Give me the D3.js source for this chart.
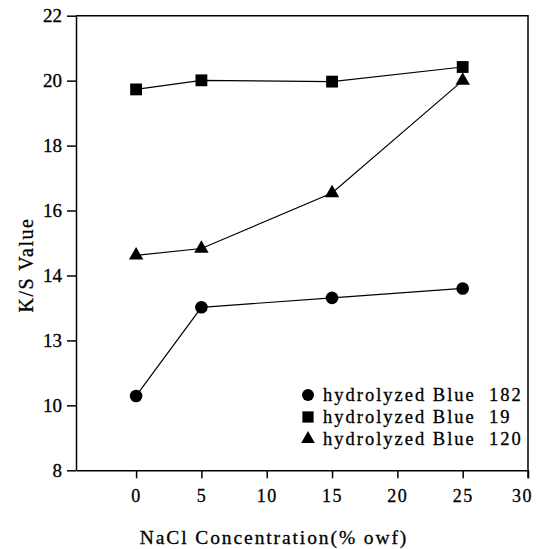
<!DOCTYPE html>
<html>
<head>
<meta charset="utf-8">
<script src="https://cdn.jsdelivr.net/npm/d3@7"></script>
<style>
  body { margin: 0; background: #fff; }
  text { font-family: "Liberation Serif", "Times New Roman", serif; fill: #000; }
</style>
</head>
<body>
<script>
// data
const NACL = [0, 5, 15, 25]
const BLUE182 = [10.29, 13.02, 13.31, 13.6]
const BLUE19 = [19.73, 20.01, 19.97, 20.42]
const BLUE120 = [14.62, 14.83, 16.54, 20.0]
const SERIES_NAMES = ['hydrolyzed Blue  182', 'hydrolyzed Blue  19', 'hydrolyzed Blue  120']
const X_TICKS = [0, 5, 10, 15, 20, 25, 30]
const Y_TICKS = [8, 10, 12, 14, 16, 18, 20, 22]
const Y_TICK_LABELS = ['8', '10', '13', '14', '16', '18', '20', '22']

const W = 537, H = 549
const LEFT = 76, RIGHT = 528, TOP = 15.7, BOTTOM = 470.3

const svg = d3.select('body').append('svg')
  .attr('width', W)
  .attr('height', H)

const x = d3.scaleLinear().domain([-4.6, 30]).range([LEFT, RIGHT])
const y = d3.scaleLinear().domain([8, 22]).range([BOTTOM, TOP])

// frame (top + right)
svg.append('path')
  .attr('d', `M${LEFT},${TOP}H${RIGHT}V${BOTTOM + 8}`)
  .attr('fill', 'none')
  .attr('stroke', '#000')
  .attr('stroke-width', 1.5)

const xAxis = svg.append('g')
  .attr('transform', `translate(0,${BOTTOM})`)
  .call(d3.axisBottom(x).tickValues(X_TICKS).tickSize(8).tickSizeOuter(0).tickPadding(11))
xAxis.selectAll('path, line').attr('stroke-width', 1.5)
xAxis.selectAll('text')
  .style('font-family', '"Liberation Serif", serif')
  .style('font-size', '18px')
  .style('letter-spacing', '1.5px')
  .style('stroke', '#000')
  .style('stroke-width', 0.3)
  .attr('dx', d => d === 30 ? -6 : 0)

const yAxis = svg.append('g')
  .attr('transform', `translate(${LEFT},0)`)
  .call(d3.axisLeft(y).tickValues(Y_TICKS).tickSize(9).tickSizeOuter(0).tickPadding(5)
    .tickFormat((d, i) => Y_TICK_LABELS[i]))
yAxis.selectAll('path, line').attr('stroke-width', 1.5)
yAxis.selectAll('text')
  .style('font-family', '"Liberation Serif", serif')
  .style('font-size', '19px')
  .style('stroke', '#000')
  .style('stroke-width', 0.3)

// axis titles
svg.append('text')
  .attr('x', 274)
  .attr('y', 544)
  .attr('text-anchor', 'middle')
  .style('font-size', '19.5px')
  .style('letter-spacing', '1.9px')
  .style('stroke', '#000')
  .style('stroke-width', 0.3)
  .text('NaCl Concentration(% owf)')

svg.append('text')
  .attr('transform', `translate(33,265)rotate(-90)`)
  .attr('text-anchor', 'middle')
  .style('font-size', '20px')
  .style('letter-spacing', '1.5px')
  .style('stroke', '#000')
  .style('stroke-width', 0.3)
  .text('K/S Value')

// lines + markers
const line = d3.line()
  .x((d, i) => x(NACL[i]))
  .y(d => y(d))

const series = [BLUE182, BLUE19, BLUE120]
const symbols = [d3.symbolCircle, d3.symbolSquare, d3.symbolTriangle]
const sizes = [125, 140, 90]

series.forEach((vals, k) => {
  svg.append('path')
    .datum(vals)
    .attr('d', line)
    .attr('fill', 'none')
    .attr('stroke', '#000')
    .attr('stroke-width', 1.2)

  svg.selectAll(null)
    .data(vals)
    .join('path')
    .attr('transform', (d, i) => `translate(${x(NACL[i])},${y(d)})`)
    .attr('d', d3.symbol().type(symbols[k]).size(sizes[k]))
    .attr('fill', '#000')
})

// legend
const legend = svg.append('g').attr('transform', 'translate(308,395)')
SERIES_NAMES.forEach((name, k) => {
  const g = legend.append('g').attr('transform', `translate(0,${k * 22})`)
  g.append('path')
    .attr('d', d3.symbol().type(symbols[k]).size(sizes[k] * 0.9))
    .attr('fill', '#000')
  g.append('text')
    .attr('x', 15)
    .attr('y', 6)
    .style('font-size', '18.5px')
    .style('letter-spacing', '2px')
    .style('white-space', 'pre')
    .style('stroke', '#000')
    .style('stroke-width', 0.3)
    .text(name)
})
</script>
</body>
</html>
